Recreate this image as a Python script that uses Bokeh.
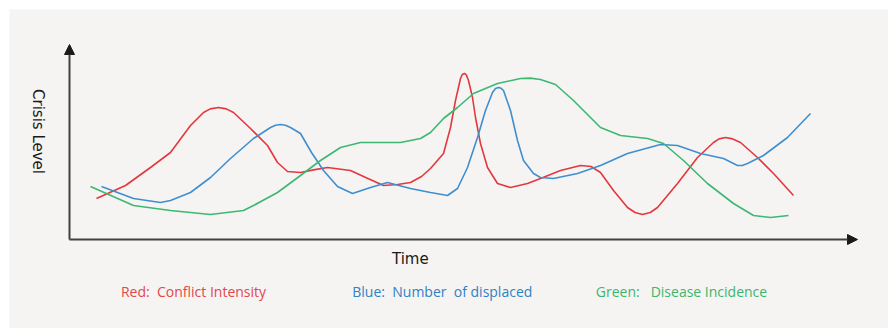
from bokeh.plotting import figure
from bokeh.models import Range1d, Arrow, NormalHead, ColumnDataSource
from bokeh.core.properties import value
from bokeh.embed import file_html
from bokeh.resources import INLINE
import math

# Time (arbitrary units) and crisis level (arbitrary units)
red_t = [3.375, 7.0, 10.125, 12.625, 15.125, 16.75, 17.6, 18.625, 19.6, 20.5, 22.625, 24.75, 26.0, 27.25,
         28.875, 30.5, 32.25, 35.125, 37.3, 39.25, 41.0, 42.625, 44.0, 45.125, 46.75, 47.625, 48.25, 48.875,
         49.1, 49.375, 49.6, 49.875, 50.375, 50.75, 51.375, 52.25, 53.5, 55.125, 57.25, 58.875, 61.375,
         63.875, 65.2, 66.375, 68.0, 69.75, 70.7, 71.625, 72.6, 73.5, 76.0, 78.5, 80.5, 81.2, 82.0, 82.9,
         83.875, 86.0, 88.0, 90.5]
red_level = [20.5, 27.0, 36.0, 43.5, 57.0, 63.5, 65.3, 66.0, 65.3, 63.5, 55.5, 47.0, 38.5, 34.0,
             33.5, 34.8, 36.0, 34.5, 30.5, 27.0, 27.5, 28.5, 31.5, 35.5, 43.0, 56.0, 69.5, 80.5,
             82.5, 83.0, 82.3, 79.5, 71.0, 61.0, 48.0, 36.0, 28.0, 26.0, 28.0, 30.5, 34.5,
             37.0, 36.5, 33.5, 24.5, 16.0, 13.5, 12.5, 13.5, 16.0, 28.0, 41.0, 48.5, 50.3, 51.0, 50.3,
             48.5, 41.0, 33.0, 22.0]

blue_t = [4.0, 8.0, 11.375, 12.625, 15.125, 17.625, 20.125, 23.0, 25.125, 25.75, 26.375, 27.0, 27.625,
          28.875, 30.25, 31.75, 33.5, 35.375, 37.625, 39.75, 42.625, 45.125, 47.25, 48.5,
          49.75, 51.0, 52.0, 52.875, 53.25, 53.625, 53.95, 54.25, 55.125, 56.0, 56.75, 58.0, 58.875, 60.5,
          63.5, 66.375, 69.75, 73.875, 76.0, 78.875, 81.75, 83.5, 84.1, 84.75, 86.75, 89.75, 92.625]
blue_level = [26.5, 20.5, 18.5, 19.5, 23.5, 31.0, 40.5, 50.5, 56.0, 57.1, 57.5, 57.1, 56.0,
              53.0, 43.5, 34.5, 26.5, 23.0, 26.0, 28.5, 25.5, 23.5, 22.0, 25.5,
              36.0, 51.0, 64.5, 73.5, 75.5, 76.0, 75.6, 74.5, 64.5, 49.5, 39.5, 33.0, 31.0, 30.5,
              33.0, 37.0, 43.0, 47.5, 47.0, 43.0, 40.5, 37.0, 37.0, 38.0, 42.0, 51.0, 63.0]

green_t = [2.625, 8.0, 12.625, 17.625, 21.75, 23.0, 26.0, 28.875, 31.375, 33.875, 36.375,
           41.375, 43.875, 45.125, 46.75, 48.5, 50.5, 53.5, 56.375, 57.6, 58.875, 60.75, 63.0,
           66.375, 68.875, 72.25, 74.25, 76.75, 79.75, 83.0, 85.5, 87.625, 89.875]
green_level = [26.5, 17.0, 14.5, 12.5, 14.5, 17.0, 23.5, 32.0, 39.5, 46.0, 48.5,
               48.5, 50.5, 53.5, 60.5, 66.0, 73.0, 78.0, 80.5, 80.7, 80.0, 77.5, 69.5,
               56.0, 52.0, 50.5, 48.0, 39.5, 28.0, 18.0, 12.0, 11.0, 12.0]

legend_labels = ["Red:\u00a0\u00a0Conflict Intensity",
                 "Blue:\u00a0\u00a0Number\u00a0\u00a0of displaced",
                 "Green:\u00a0\u00a0\u00a0Disease Incidence"]
legend_t = [15.5, 46.6, 76.5]
legend_colors = ["#e2474c", "#2f82c4", "#3cb56e"]

x_label = "Time"
y_label = "Crisis Level"

p = figure(width=888, height=328, output_backend="svg", toolbar_location=None,
           x_range=Range1d(-7.5, 102.375), y_range=Range1d(-44.5, 115),
           x_axis_location=None, y_axis_location=None,
           min_border_left=9, min_border_top=9, min_border_right=0, min_border_bottom=0,
           background_fill_color="#f5f4f2", border_fill_color="#ffffff")
p.grid.visible = False
p.outline_line_color = None

p.line(red_t, red_level, line_color="#e3383d", line_width=1.6, line_join="round")
p.line(blue_t, blue_level, line_color="#3f8fd0", line_width=1.6, line_join="round")
p.line(green_t, green_level, line_color="#3cb872", line_width=1.6, line_join="round")

# axes with arrow heads
axis_x_end = 98.5
axis_y_end = 97.5
p.add_layout(Arrow(end=NormalHead(size=10, fill_color="#1a1a1a", line_color="#1a1a1a"),
                   x_start=0, y_start=0, x_end=axis_x_end, y_end=0,
                   line_color="#404040", line_width=2))
p.add_layout(Arrow(end=NormalHead(size=10, fill_color="#1a1a1a", line_color="#1a1a1a"),
                   x_start=0, y_start=0, x_end=0, y_end=axis_y_end,
                   line_color="#404040", line_width=2))

p.text(x=[42.6], y=[-9.5], text=[x_label], text_font=value("DejaVu Sans"),
       text_font_size="15px", text_color="#1a1a1a", text_align="center", text_baseline="middle")
p.text(x=[-3.9], y=[54], text=[y_label], angle=-math.pi / 2, text_font=value("DejaVu Sans"),
       text_font_size="15px", text_color="#1a1a1a", text_align="center", text_baseline="middle")

src = ColumnDataSource(dict(x=legend_t, y=[-26] * 3, text=legend_labels, color=legend_colors))
p.text(x="x", y="y", text="text", text_color="color", source=src, text_font=value("Open Sans"),
       text_font_size="14px", text_align="center", text_baseline="middle")

open("out.html", "w").write(file_html(p, INLINE))
